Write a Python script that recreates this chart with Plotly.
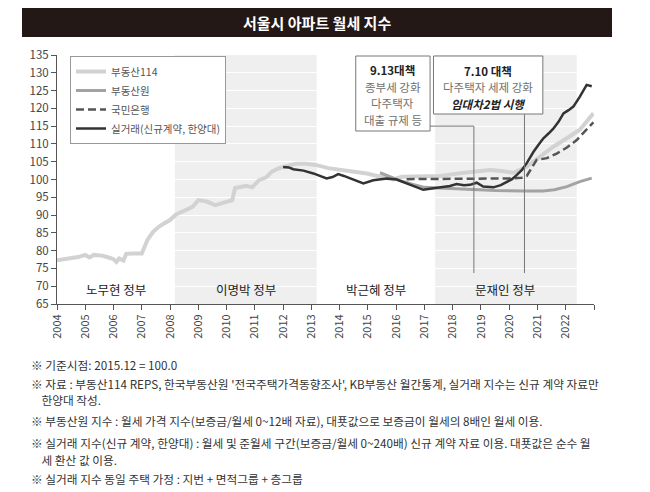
import plotly.graph_objects as go

# 서울시 아파트 월세 지수 (2015.12 = 100)
r114_x = [2004.0, 2004.25, 2004.5, 2004.75, 2005.0, 2005.15, 2005.3, 2005.6, 2005.85, 2006.0,
          2006.1, 2006.2, 2006.35, 2006.45, 2006.7, 2007.0, 2007.1, 2007.2, 2007.4, 2007.6,
          2007.8, 2008.0, 2008.2, 2008.55, 2008.8, 2009.0, 2009.3, 2009.6, 2009.75, 2010.0,
          2010.2, 2010.3, 2010.5, 2010.7, 2010.9, 2011.15, 2011.4, 2011.6, 2011.85, 2012.1,
          2012.45, 2012.8, 2013.15, 2013.6, 2014.25, 2014.96, 2015.43, 2015.9, 2016.2, 2017.0,
          2017.55, 2018.5, 2019.32, 2019.8, 2020.15, 2020.62, 2021.09, 2021.56, 2022.04, 2022.5,
          2022.98]
r114_y = [77.3, 77.6, 77.8, 78.2, 78.8, 78.1, 78.8, 78.6, 78.0, 77.6,
          76.8, 77.8, 77.2, 79.1, 79.2, 79.2, 81.1, 83.0, 85.3, 86.7,
          87.7, 88.6, 90.1, 91.4, 92.3, 94.2, 93.8, 92.8, 93.1, 93.8,
          94.2, 97.6, 98.0, 98.2, 97.8, 99.8, 100.6, 102.2, 103.2, 103.8,
          104.4, 104.4, 104.1, 103.2, 102.5, 101.7, 100.8, 100.0, 100.8, 100.9,
          101.0, 102.0, 102.7, 102.3, 101.9, 103.6, 106.4, 109.2, 111.6, 114.0,
          118.6]

reb_x = [2015.43, 2015.8, 2016.2, 2016.6, 2017.0, 2017.55, 2018.5, 2019.5, 2020.5, 2021.2,
         2021.6, 2022.04, 2022.5, 2022.92]
reb_y = [101.9, 100.7, 99.5, 98.6, 97.8, 97.6, 97.3, 96.9, 96.8, 96.8,
         97.1, 98.0, 99.4, 100.4]

kb_x = [2016.37, 2017.0, 2018.0, 2019.0, 2020.0, 2020.45, 2020.62, 2020.97, 2021.33, 2021.68,
        2022.04, 2022.39, 2022.7, 2022.98]
kb_y = [100.1, 100.1, 100.2, 100.3, 100.3, 100.5, 101.0, 105.5, 106.0, 107.3,
        109.0, 111.1, 113.6, 116.1]

real_x = [2012.0, 2012.2, 2012.36, 2012.55, 2012.72, 2013.07, 2013.3, 2013.54, 2013.75, 2013.95,
          2014.15, 2014.37, 2014.6, 2014.84, 2015.19, 2015.45, 2015.67, 2016.02, 2016.25, 2016.49,
          2016.96, 2017.2, 2017.43, 2017.9, 2018.14, 2018.4, 2018.61, 2018.85, 2019.08, 2019.44,
          2019.7, 2019.91, 2020.1, 2020.27, 2020.45, 2020.62, 2020.86, 2021.05, 2021.21, 2021.4,
          2021.56, 2021.75, 2021.92, 2022.1, 2022.27, 2022.5, 2022.74, 2022.92]
real_y = [103.5, 103.4, 102.9, 102.7, 102.5, 101.7, 101.1, 100.3, 100.7, 101.5,
          101.0, 100.3, 99.7, 98.9, 99.8, 100.0, 100.3, 100.0, 99.3, 98.5,
          97.1, 97.4, 97.6, 98.2, 98.7, 98.4, 98.5, 99.1, 98.0, 97.8,
          98.4, 99.4, 100.1, 101.3, 102.7, 104.6, 107.8, 109.9, 111.6, 113.0,
          114.3, 116.3, 118.6, 119.5, 120.5, 123.3, 126.6, 126.2]

series_names = ["부동산114", "부동산원", "국민은행", "실거래(신규계약, 한양대)"]

year_ticks = list(range(2004, 2024))
year_labels = [str(y) for y in range(2004, 2023)] + [""]

gov_names = ["노무현 정부", "이명박 정부", "박근혜 정부", "문재인 정부"]
gov_label_x = [2006.1, 2010.7, 2015.3, 2019.85]
shade_x0 = [2008.17, 2017.38]
shade_x1 = [2013.19, 2022.39]

box1_lines = ["<b>9.13대책</b>", "종부세 강화", "다주택자", "대출 규제 등"]
box2_lines = ["<b>7.10 대책</b>", "다주택자 세제 강화", "<b><i>임대차2법 시행</i></b>"]

notes = [
    "※ 기준시점: 2015.12 = 100.0",
    "※ 자료 : 부동산114 REPS, 한국부동산원 '전국주택가격동향조사', KB부동산 월간통계, 실거래 지수는 신규 계약 자료만",
    "    한양대 작성.",
    "※ 부동산원 지수 : 월세 가격 지수(보증금/월세 0~12배 자료), 대푯값으로 보증금이 월세의 8배인 월세 이용.",
    "※ 실거래 지수(신규 계약, 한양대) : 월세 및 준월세 구간(보증금/월세 0~240배) 신규 계약 자료 이용. 대푯값은 순수 월",
    "    세 환산 값 이용.",
    "※ 실거래 지수 동일 주택 가정 : 지번 + 면적그룹 + 층그룹",
]
note_py = [364, 383, 399, 420, 442, 459, 478]

KR = "Noto Sans CJK KR"
NUM = "Liberation Sans Narrow, Noto Sans CJK KR"

# page body margin pushes the figure 8px right/down, so shrink and shift
OFF = 8
W, H = 650 - OFF, 492 - OFF
PL, PR, PT, PB = 57, 594, 55, 304   # plot area in reference pixels
L, T = PL - OFF, PT - OFF
R = W - (PR - OFF)
B = H - (PB - OFF)


def px(x):
    return (x - PL) / (PR - PL)


def py(y):
    return (PB - y) / (PB - PT)


fig = go.Figure()
fig.add_trace(go.Scatter(x=r114_x, y=r114_y, name=series_names[0], mode="lines",
                         line=dict(color="#d2d2d2", width=4)))
fig.add_trace(go.Scatter(x=reb_x, y=reb_y, name=series_names[1], mode="lines",
                         line=dict(color="#a3a3a3", width=3)))
fig.add_trace(go.Scatter(x=kb_x, y=kb_y, name=series_names[2], mode="lines",
                         line=dict(color="#555555", width=2.5, dash="8px,4px")))
fig.add_trace(go.Scatter(x=real_x, y=real_y, name=series_names[3], mode="lines",
                         line=dict(color="#333333", width=2.5)))

shapes = []
# government bands
for a, b in zip(shade_x0, shade_x1):
    shapes.append(dict(type="rect", xref="x", yref="paper", x0=a, x1=b, y0=0, y1=1,
                       fillcolor="#efefef", line_width=0, layer="below"))
# title bar
shapes.append(dict(type="rect", xref="paper", yref="paper", x0=px(22), x1=px(612),
                   y0=py(37), y1=py(8), fillcolor="#231815", line_width=0))
# policy boxes and connectors (paper y from reference pixels)
shapes.append(dict(type="rect", xref="x", yref="paper", x0=2014.57, x1=2017.2,
                   y0=py(131), y1=py(56), fillcolor="white",
                   line=dict(color="#777777", width=1)))
shapes.append(dict(type="rect", xref="x", yref="paper", x0=2017.32, x1=2021.19,
                   y0=py(114), y1=py(56), fillcolor="white",
                   line=dict(color="#777777", width=1)))
shapes.append(dict(type="path", xref="x", yref="y",
                   path="M 2017.2 115.0 L 2018.75 115.0 L 2018.75 73.7",
                   line=dict(color="#777777", width=1)))
shapes.append(dict(type="line", xref="x", yref="y", x0=2020.54, x1=2020.54, y0=118.4, y1=73.7,
                   line=dict(color="#777777", width=1)))

ann = []
ann.append(dict(text="<b>서울시 아파트 월세 지수</b>", xref="paper", yref="paper",
                x=px(317), y=py(22.5), xanchor="center", yanchor="middle", showarrow=False,
                font=dict(family=KR, size=15, color="white")))
for name, gx in zip(gov_names, gov_label_x):
    ann.append(dict(text=name, x=gx, y=69.2, xref="x", yref="y", showarrow=False,
                    xanchor="center", yanchor="middle",
                    font=dict(family=KR, size=12.5, color="#222222")))

for i, t in enumerate(box1_lines):
    ann.append(dict(text=t, xref="x", yref="paper", x=2015.885, y=py(70 + 16.7 * i),
                    xanchor="center", yanchor="middle", showarrow=False,
                    font=dict(family=KR, size=11.5, color="#222222" if i == 0 else "#707070")))
for i, t in enumerate(box2_lines):
    ann.append(dict(text=t, xref="x", yref="paper", x=2019.25, y=py(70.5 + 16.5 * i),
                    xanchor="center", yanchor="middle", showarrow=False,
                    font=dict(family=KR, size=11.5, color="#707070" if i == 1 else "#222222")))

for t, yy in zip(notes, note_py):
    ann.append(dict(text=t, xref="paper", yref="paper", x=px(29), y=py(yy),
                    xanchor="left", yanchor="middle", showarrow=False,
                    font=dict(family=KR, size=11.7, color="#333333")))

fig.update_layout(
    width=W, height=H, autosize=False,
    margin=dict(l=L, r=R, t=T, b=B),
    paper_bgcolor="white", plot_bgcolor="white",
    shapes=shapes, annotations=ann,
    legend=dict(x=px(70), y=py(56), xanchor="left", yanchor="top",
                bgcolor="white", bordercolor="#999999", borderwidth=1,
                font=dict(family=KR, size=10.5, color="#555555"),
                itemwidth=30, tracegroupgap=0),
    showlegend=True,
)
fig.update_xaxes(range=[2004, 2023], tickvals=year_ticks, ticktext=year_labels,
                 tickangle=-90, ticks="outside", ticklen=5, tickcolor="#555555",
                 showline=True, linecolor="#555555", showgrid=False, zeroline=False,
                 tickfont=dict(family=NUM, size=11, color="#444444"))
fig.update_yaxes(range=[65, 135], dtick=5, ticks="outside", ticklen=5, tickcolor="#555555",
                 showline=True, linecolor="#555555", showgrid=True, gridcolor="white",
                 zeroline=False, tickfont=dict(family=NUM, size=11.5, color="#444444"))

fig.write_html("out.html")
